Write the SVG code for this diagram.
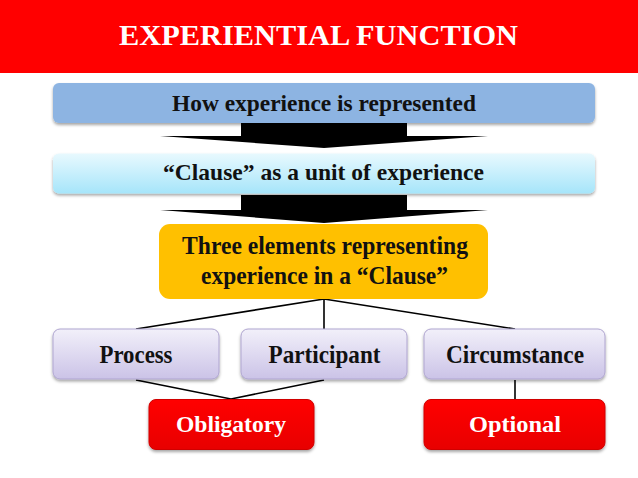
<svg xmlns="http://www.w3.org/2000/svg" width="638" height="478" viewBox="0 0 638 478">
<defs>
<linearGradient id="gCyan" x1="0" y1="0" x2="0" y2="1"><stop offset="0" stop-color="#E8F9FE"/><stop offset="1" stop-color="#A6E5FA"/></linearGradient>
<linearGradient id="gLav" x1="0" y1="0" x2="0" y2="1"><stop offset="0" stop-color="#F2F0FA"/><stop offset="1" stop-color="#CBC3E7"/></linearGradient>
<linearGradient id="gRed" x1="0" y1="0" x2="0" y2="1"><stop offset="0" stop-color="#FF0000"/><stop offset="1" stop-color="#E80000"/></linearGradient>
<filter id="sh" x="-10%" y="-20%" width="120%" height="150%"><feDropShadow dx="0" dy="2" stdDeviation="1.5" flood-color="#000" flood-opacity="0.35"/></filter>
</defs>
<style>
text{font-family:"Liberation Serif","Times New Roman",serif;font-weight:bold;text-anchor:middle}
.dark{fill:#111}
.white{fill:#fff}
.conn{stroke:#000;stroke-width:1.6;fill:none}
</style>
<rect width="638" height="478" fill="#fff"/>
<g id="header">
<rect x="0" y="0" width="638" height="73" fill="#FF0000"/>
<text x="318.5" y="45" font-size="30" class="white" textLength="399" lengthAdjust="spacingAndGlyphs">EXPERIENTIAL FUNCTION</text>
</g>
<g id="arrows">
<path d="M241,123 H407 V136 H488 L324,148 L160,136 H241 Z" fill="#000"/>
<path d="M241,195 H407 V210 H488 L324,223 L160,210 H241 Z" fill="#000"/>
</g>
<g id="connectors">
<path class="conn" d="M324,299 L136,329 M324,299 V329 M324,299 L515,329"/>
<path class="conn" d="M136,380 L231,399 L324,380"/>
<path class="conn" d="M515,380 V399"/>
</g>
<g id="node-how">
<rect x="53" y="83" width="542" height="40" rx="6" fill="#8DB4E2" filter="url(#sh)"/>
<text x="324" y="110.5" font-size="23.5" class="dark" textLength="304" lengthAdjust="spacingAndGlyphs">How experience is represented</text>
</g>
<g id="node-clause">
<rect x="53" y="153.5" width="542" height="40" rx="6" fill="url(#gCyan)" filter="url(#sh)"/>
<text x="323.5" y="180" font-size="24" class="dark" textLength="321" lengthAdjust="spacingAndGlyphs">“Clause” as a unit of experience</text>
</g>
<g id="node-three">
<rect x="159" y="224" width="329" height="75" rx="11" fill="#FFC000"/>
<text x="325" y="254" font-size="25" class="dark" textLength="286" lengthAdjust="spacingAndGlyphs">Three elements representing</text>
<text x="324.5" y="284" font-size="25" class="dark" textLength="247" lengthAdjust="spacingAndGlyphs">experience in a “Clause”</text>
</g>
<g id="node-process">
<rect x="53" y="329" width="166" height="50" rx="7" fill="url(#gLav)" stroke="#AFA5D0" stroke-width="1" filter="url(#sh)"/>
<text x="136" y="362.5" font-size="25" class="dark" textLength="73" lengthAdjust="spacingAndGlyphs">Process</text>
</g>
<g id="node-participant">
<rect x="241" y="329" width="166" height="50" rx="7" fill="url(#gLav)" stroke="#AFA5D0" stroke-width="1" filter="url(#sh)"/>
<text x="324.5" y="362.5" font-size="25" class="dark" textLength="112" lengthAdjust="spacingAndGlyphs">Participant</text>
</g>
<g id="node-circumstance">
<rect x="424" y="329" width="181" height="50" rx="7" fill="url(#gLav)" stroke="#AFA5D0" stroke-width="1" filter="url(#sh)"/>
<text x="515" y="362.5" font-size="25" class="dark" textLength="138" lengthAdjust="spacingAndGlyphs">Circumstance</text>
</g>
<g id="node-obligatory">
<rect x="149" y="399.5" width="165" height="50" rx="7" fill="url(#gRed)" stroke="#D00000" stroke-width="1" filter="url(#sh)"/>
<text x="231" y="432" font-size="24" class="white" textLength="110" lengthAdjust="spacingAndGlyphs">Obligatory</text>
</g>
<g id="node-optional">
<rect x="424" y="399.5" width="181" height="50" rx="7" fill="url(#gRed)" stroke="#D00000" stroke-width="1" filter="url(#sh)"/>
<text x="515" y="432" font-size="24" class="white" textLength="92" lengthAdjust="spacingAndGlyphs">Optional</text>
</g>
</svg>
